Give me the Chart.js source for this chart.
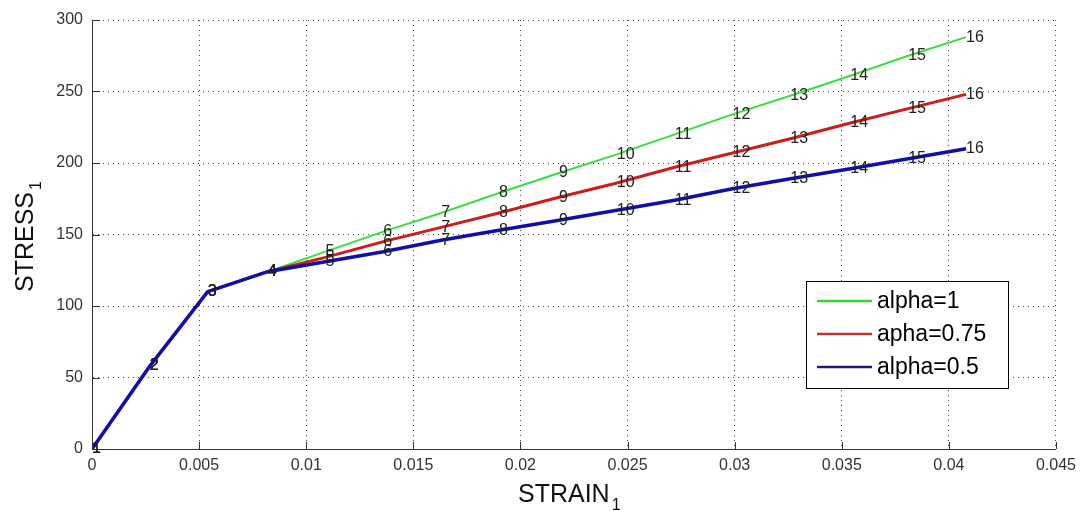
<!DOCTYPE html>
<html>
<head>
<meta charset="utf-8">
<script src="https://cdn.jsdelivr.net/npm/chart.js@4/dist/chart.umd.min.js"></script>
<style>
  html, body { margin: 0; padding: 0; background: #fff; }
  canvas { display: block; }
</style>
</head>
<body>
<canvas id="stressChart" width="1083" height="511"></canvas>
<script>
// valores
const strain = [0, 0.0027, 0.0054, 0.0082, 0.0109, 0.0136, 0.0163, 0.0190, 0.0218, 0.0245, 0.0272, 0.0299, 0.0326, 0.0354, 0.0381, 0.0408];
const stressAlpha1 = [0, 58, 110, 124, 138, 152, 165, 179, 193, 206, 220, 234, 247, 261, 275, 288];
const stressAlpha075 = [0, 58, 110, 124, 134, 145, 155, 165, 176, 186, 197, 207, 217, 228, 238, 248];
const stressAlpha05 = [0, 58, 110, 124, 131, 138, 146, 153, 160, 167, 174, 182, 189, 196, 203, 210];
const seriesNames = ['alpha=1', 'apha=0.75', 'alpha=0.5'];
const xTitle = 'STRAIN';
const yTitle = 'STRESS';

const FONT = 'Arial, "Liberation Sans", Helvetica, sans-serif';

function toPoints(ys) {
    return strain.map((x, i) => ({ x: x, y: ys[i] }));
}

// numeros junto de cada ponto (como text() no matlab)
const pointNumbers = {
    id: 'pointNumbers',
    afterDatasetsDraw(chart) {
        const ctx = chart.ctx;
        ctx.save();
        ctx.font = '16px ' + FONT;
        ctx.fillStyle = '#222';
        ctx.textAlign = 'left';
        ctx.textBaseline = 'middle';
        chart.data.datasets.forEach((ds, d) => {
            chart.getDatasetMeta(d).data.forEach((pt, i) => {
                ctx.fillText(String(i + 1), pt.x, pt.y);
            });
        });
        ctx.restore();
    }
};

// ticks para dentro, titulos dos eixos e legenda dentro da area
const extras = {
    id: 'extras',
    afterDraw(chart) {
        const ctx = chart.ctx;
        const area = chart.chartArea;
        const xs = chart.scales.x;
        const ys = chart.scales.y;
        ctx.save();
        ctx.strokeStyle = '#333';
        ctx.lineWidth = 1;
        ctx.beginPath();
        xs.ticks.forEach(t => {
            const px = Math.round(xs.getPixelForValue(t.value)) + 0.5;
            ctx.moveTo(px, area.bottom);
            ctx.lineTo(px, area.bottom - 7);
        });
        ys.ticks.forEach(t => {
            const py = Math.round(ys.getPixelForValue(t.value)) + 0.5;
            ctx.moveTo(area.left, py);
            ctx.lineTo(area.left + 8, py);
        });
        ctx.stroke();

        // titulo eixo x com subscrito
        ctx.fillStyle = '#111';
        ctx.textAlign = 'left';
        ctx.textBaseline = 'alphabetic';
        ctx.font = '25px ' + FONT;
        ctx.fillText(xTitle, 518, 502);
        const wx = ctx.measureText(xTitle).width;
        ctx.font = '16px ' + FONT;
        ctx.fillText('1', 518 + wx + 2, 510);

        // titulo eixo y rodado
        ctx.save();
        ctx.translate(33, 292);
        ctx.rotate(-Math.PI / 2);
        ctx.font = '25px ' + FONT;
        ctx.fillText(yTitle, 0, 0);
        const wy = ctx.measureText(yTitle).width;
        ctx.font = '16px ' + FONT;
        ctx.fillText('1', wy + 2, 8);
        ctx.restore();

        // legenda
        const bx = 806, by = 281, bw = 202, bh = 107;
        ctx.fillStyle = '#fff';
        ctx.fillRect(bx, by, bw, bh);
        ctx.strokeStyle = '#000';
        ctx.strokeRect(bx + 0.5, by + 0.5, bw, bh);
        const rows = [301, 334, 367];
        ctx.font = '23px ' + FONT;
        ctx.textBaseline = 'middle';
        chart.data.datasets.forEach((ds, i) => {
            ctx.strokeStyle = ds.legendColor;
            ctx.lineWidth = 2.5;
            ctx.beginPath();
            ctx.moveTo(817, rows[i]);
            ctx.lineTo(872, rows[i]);
            ctx.stroke();
            ctx.fillStyle = '#000';
            ctx.fillText(ds.label, 877, rows[i] + 1);
        });
        ctx.restore();
    }
};

const gridOpts = {
    color: '#444',
    lineWidth: 1,
    drawTicks: false
};
const borderOpts = {
    display: true,
    color: '#333',
    width: 1,
    dash: [1, 4]
};

const chart = new Chart(document.getElementById('stressChart').getContext('2d'), {
    type: 'line',
    data: {
        datasets: [{
            label: seriesNames[0],
            data: toPoints(stressAlpha1),
            borderColor: '#3ddc3d',
            legendColor: '#2ed82e',
            borderWidth: 2,
            order: 2
        }, {
            label: seriesNames[1],
            data: toPoints(stressAlpha075),
            borderColor: '#cc1c1c',
            legendColor: '#b83838',
            borderWidth: 3,
            order: 1
        }, {
            label: seriesNames[2],
            data: toPoints(stressAlpha05),
            borderColor: '#1010a8',
            legendColor: '#1c1c80',
            borderWidth: 3.5,
            order: 0
        }]
    },
    options: {
        responsive: false,
        animation: false,
        parsing: true,
        elements: {
            point: { radius: 0 },
            line: { tension: 0, fill: false }
        },
        layout: { padding: { top: 20, right: 25, left: 0, bottom: 0 } },
        plugins: {
            legend: { display: false },
            tooltip: { enabled: false }
        },
        scales: {
            x: {
                type: 'linear',
                min: 0,
                max: 0.045,
                ticks: {
                    stepSize: 0.005,
                    padding: 7,
                    color: '#333',
                    font: { family: FONT, size: 16 },
                    callback: v => String(parseFloat(v.toFixed(3)))
                },
                grid: gridOpts,
                border: borderOpts,
                afterFit(scale) { scale.height = 62; }
            },
            y: {
                min: 0,
                max: 300,
                ticks: {
                    stepSize: 50,
                    padding: 9,
                    color: '#333',
                    font: { family: FONT, size: 16 }
                },
                grid: gridOpts,
                border: borderOpts,
                afterFit(scale) { scale.width = 92; }
            }
        }
    },
    plugins: [pointNumbers, extras]
});
</script>
</body>
</html>
